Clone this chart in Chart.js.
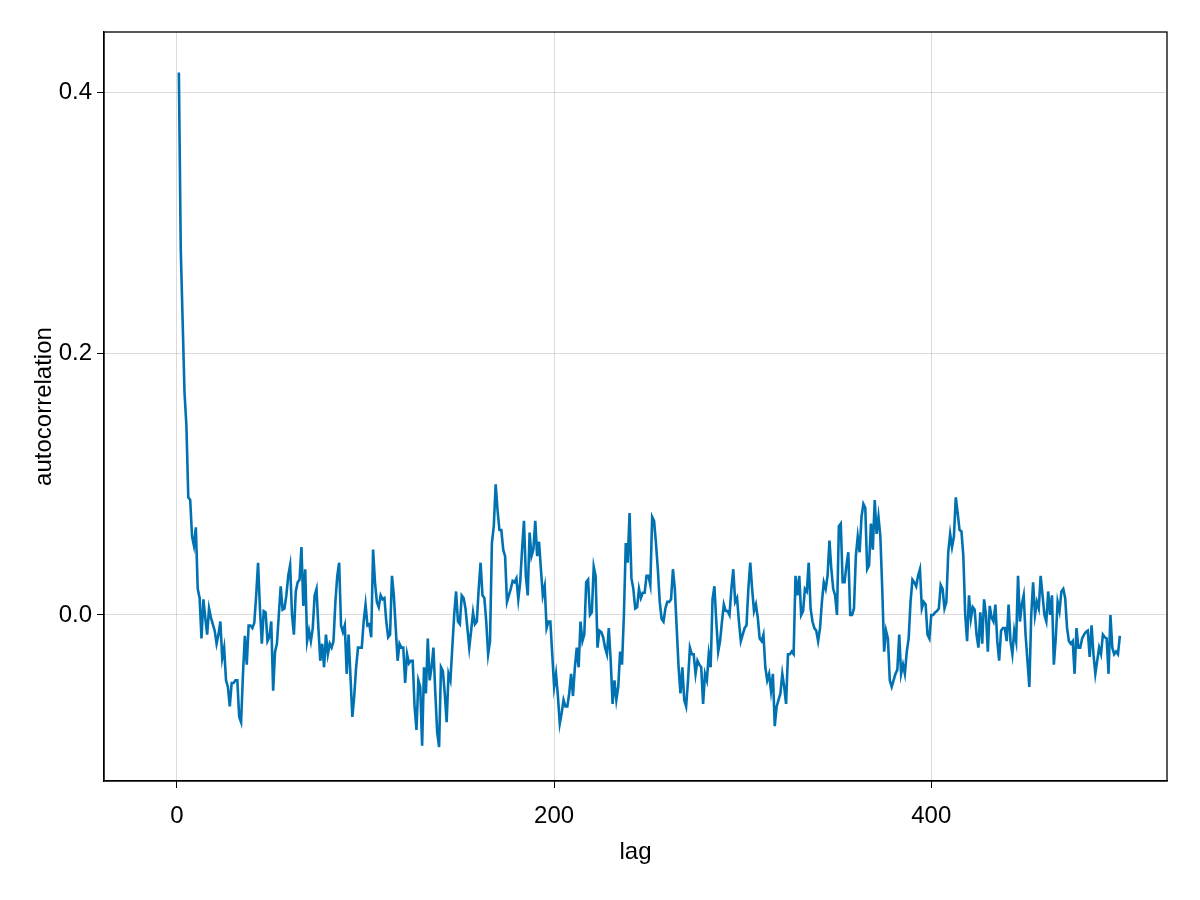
<!DOCTYPE html>
<html><head><meta charset="utf-8">
<script src="https://cdn.jsdelivr.net/npm/chart.js@4"></script>
<style>html,body{margin:0;padding:0;background:#fff}#w{width:1200px;height:900px}</style>
</head><body><div id="w"><canvas id="c" width="1200" height="900"></canvas></div>
<script>
const acf = [0.415,0.28,0.225,0.17,0.145,0.09,0.088,0.06,0.053,0.067,0.02,0.013,-0.018,0.012,-0.002,-0.015,0.005,-0.002,-0.007,-0.012,
-0.022,-0.015,-0.005,-0.033,-0.025,-0.05,-0.055,-0.07,-0.052,-0.052,-0.05,-0.05,-0.078,-0.082,-0.045,-0.016,-0.038,-0.008,-0.008,-0.01,
-0.006,0.015,0.04,0.005,-0.022,0.003,0.002,-0.02,-0.017,-0.005,-0.058,-0.028,-0.022,0.0,0.022,0.004,0.005,0.015,0.03,0.038,
0.0,-0.015,0.018,0.025,0.027,0.052,0.007,0.035,-0.02,-0.012,-0.02,-0.01,0.015,0.02,-0.01,-0.035,-0.022,-0.04,-0.015,-0.03,
-0.022,-0.025,-0.02,0.01,0.03,0.04,-0.008,-0.013,-0.008,-0.045,-0.015,-0.047,-0.078,-0.062,-0.04,-0.025,-0.025,-0.025,-0.005,0.008,
-0.008,-0.007,-0.017,0.05,0.025,0.01,0.006,0.015,0.012,0.013,-0.005,-0.017,-0.015,0.03,0.015,-0.01,-0.035,-0.022,-0.025,-0.025,
-0.052,-0.03,-0.037,-0.035,-0.035,-0.07,-0.088,-0.05,-0.055,-0.1,-0.04,-0.06,-0.018,-0.05,-0.04,-0.025,-0.06,-0.09,-0.101,-0.04,
-0.043,-0.06,-0.082,-0.045,-0.05,-0.025,0.0,0.018,-0.005,-0.007,0.015,0.013,0.005,-0.01,-0.025,-0.012,0.002,-0.007,-0.005,0.02,
0.04,0.015,0.013,-0.005,-0.03,-0.02,0.055,0.068,0.1,0.08,0.065,0.065,0.05,0.045,0.01,0.015,0.02,0.026,0.025,0.028,
0.012,0.025,0.05,0.072,0.03,0.015,0.063,0.045,0.05,0.072,0.045,0.056,0.035,0.015,0.022,-0.01,-0.005,-0.005,-0.03,-0.055,
-0.045,-0.062,-0.083,-0.075,-0.065,-0.07,-0.07,-0.06,-0.045,-0.062,-0.04,-0.025,-0.04,-0.005,-0.02,-0.015,0.025,0.027,0.0,0.002,
0.037,0.03,-0.025,-0.012,-0.013,-0.017,-0.025,-0.03,-0.01,-0.035,-0.068,-0.05,-0.065,-0.055,-0.028,-0.038,0.0,0.055,0.04,0.078,
0.028,0.02,0.005,0.006,0.02,0.013,0.017,0.017,0.03,0.03,0.023,0.075,0.072,0.055,0.035,0.01,-0.003,-0.005,0.005,0.01,
0.01,0.012,0.035,0.02,-0.01,-0.04,-0.06,-0.04,-0.065,-0.07,-0.05,-0.025,-0.03,-0.03,-0.045,-0.035,-0.038,-0.04,-0.068,-0.045,
-0.05,-0.03,-0.04,0.012,0.022,-0.005,-0.028,-0.02,-0.005,0.008,0.003,0.003,0.0,0.02,0.035,0.01,0.013,-0.005,-0.02,-0.015,
-0.01,-0.008,0.02,0.04,0.02,0.003,0.008,-0.002,-0.018,-0.02,-0.015,-0.04,-0.05,-0.045,-0.058,-0.045,-0.085,-0.07,-0.065,-0.06,
-0.045,-0.055,-0.068,-0.03,-0.03,-0.028,-0.03,0.03,0.015,0.03,0.0,0.003,0.02,0.018,0.04,0.005,-0.005,-0.01,-0.012,-0.02,
-0.01,0.01,0.025,0.02,0.03,0.057,0.035,0.02,0.015,0.0,0.068,0.07,0.025,0.025,0.038,0.048,0.0,0.0,0.005,0.045,
0.06,0.048,0.075,0.085,0.082,0.035,0.038,0.07,0.05,0.088,0.062,0.075,0.06,0.02,-0.028,-0.012,-0.018,-0.05,-0.055,-0.05,
-0.045,-0.042,-0.015,-0.045,-0.038,-0.045,-0.028,-0.018,0.01,0.027,0.025,0.022,0.03,0.035,0.005,0.01,0.008,-0.015,-0.018,0.0,
0.0,0.002,0.003,0.005,0.023,0.02,0.005,0.01,0.048,0.062,0.052,0.06,0.09,0.078,0.065,0.064,0.045,0.0,-0.02,0.015,
-0.003,0.006,0.004,-0.015,-0.025,0.002,-0.022,0.012,0.0,-0.028,0.007,-0.002,-0.005,0.008,-0.02,-0.035,-0.012,-0.01,-0.01,-0.02,
0.008,-0.02,-0.03,-0.012,-0.02,0.03,-0.005,0.008,0.015,-0.015,-0.035,-0.055,0.0,0.025,0.0,0.01,0.005,0.03,0.015,0.0,
-0.005,0.018,0.0,0.015,-0.038,-0.018,0.01,0.003,0.018,0.02,0.013,-0.01,-0.02,-0.022,-0.02,-0.045,-0.01,-0.025,-0.025,-0.018,
-0.015,-0.013,-0.012,-0.032,-0.008,-0.03,-0.045,-0.035,-0.025,-0.03,-0.015,-0.017,-0.018,-0.045,0.0,-0.025,-0.03,-0.028,-0.03,-0.016];
const lags = acf.map((v,i)=>i+1);
const xTicks = [0,200,400];
const yTicks = [0,0.2,0.4];
const font = {family:'"Liberation Sans", Arial, sans-serif', size:24};
new Chart(document.getElementById('c'), {
  type:'line',
  data:{datasets:[{data:lags.map((x,i)=>({x, y:acf[i]})), borderColor:'#0072B2', borderWidth:2.6, pointRadius:0, tension:0, fill:false}]},
  options:{
    responsive:false, animation:false, devicePixelRatio:1,
    layout:{padding:{left:30,top:32,right:33,bottom:33}},
    plugins:{legend:{display:false}, tooltip:{enabled:false}},
    scales:{
      x:{type:'linear', min:-38.7, max:525,
        afterBuildTicks:a=>{a.ticks=xTicks.map(v=>({value:v}));},
        afterFit:a=>{a.height=86;},
        grid:{color:'rgba(0,0,0,0.14)', lineWidth:1, tickLength:7, tickColor:'#000'},
        border:{color:'#000', width:1.3},
        ticks:{font, color:'#000', padding:14, maxRotation:0, callback:v=>String(v)},
        title:{display:true, text:'lag', font, color:'#000', padding:{top:4,bottom:0}}
      },
      y:{type:'linear', min:-0.127, max:0.446,
        afterBuildTicks:a=>{a.ticks=yTicks.map(v=>({value:v}));},
        afterFit:a=>{a.width=74;},
        grid:{color:'rgba(0,0,0,0.14)', lineWidth:1, tickLength:7, tickColor:'#000'},
        border:{color:'#000', width:1.3},
        ticks:{font, color:'#000', padding:5, callback:v=>v.toFixed(1)},
        title:{display:true, text:'autocorrelation', font, color:'#000', padding:{top:0,bottom:0}}
      }
    }
  },
  plugins:[{id:'box', afterDraw(ch){const a=ch.chartArea,c=ch.ctx;c.save();c.strokeStyle='#000';c.lineWidth=1.3;c.strokeRect(a.left,a.top,a.right-a.left,a.bottom-a.top);c.restore();}}]
});
</script></body></html>
